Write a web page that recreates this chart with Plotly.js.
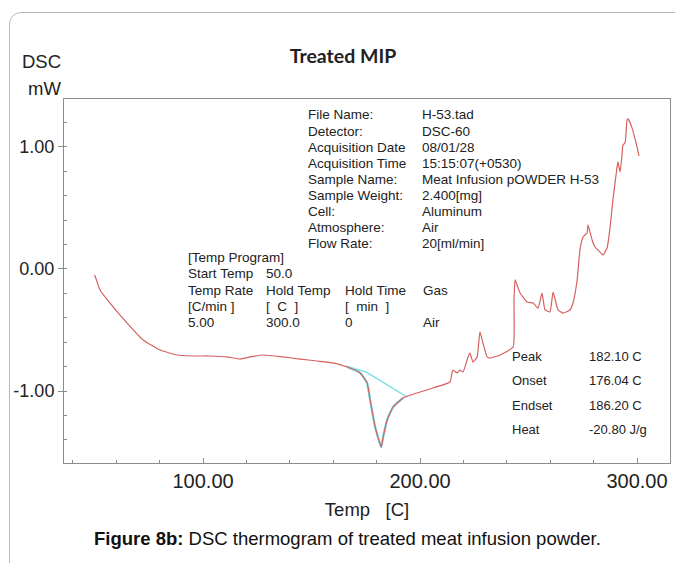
<!DOCTYPE html>
<html>
<head>
<meta charset="utf-8">
<script src="https://cdn.plot.ly/plotly-3.0.1.min.js"></script>
<style>
  html, body { margin: 0; padding: 0; background: #ffffff; overflow: hidden; }
  #wrap { position: relative; width: 675px; height: 563px; }
  #chart { position: absolute; left: 0; top: 0; width: 675px; height: 563px; }
  #frame { position: absolute; left: 9px; top: 12px; width: 720px; height: 620px;
           border: 1px solid #b8b8b8; border-radius: 12px; pointer-events: none; z-index: 5; }
</style>
</head>
<body>
<div id="wrap">
  <div id="chart"></div>
  <div id="frame"></div>
</div>
<script>
// ---- data ----
const temp = [50.0, 50.7, 52.5, 57.1, 65.0, 72.4, 80.2, 88.0, 95.4, 103.2, 111.1, 117.1, 121.7, 127.6,
  136.9, 144.7, 152.5, 159.9, 166.4, 172.4, 175.6, 177.0, 179.3, 182.1, 183.0, 184.8, 187.6, 192.2,
  198.6, 206.0, 213.8, 214.7, 215.2, 217.1, 218.4, 219.8, 222.1, 223.0, 224.4, 226.3, 227.6, 229.0,
  230.9, 232.3, 236.9, 242.9, 243.3, 243.8, 244.7, 246.1, 249.3, 252.1, 254.4, 256.2, 257.6, 259.9,
  261.3, 263.6, 265.9, 269.1, 270.5, 272.4, 273.7, 275.1, 277.0, 277.4, 279.3, 280.6, 282.0, 284.3,
  286.2, 287.6, 288.9, 290.8, 291.2, 292.2, 293.1, 293.5, 294.5, 295.4, 295.9, 297.7, 300.0, 300.9];
const dsc = [-0.049, -0.082, -0.172, -0.279, -0.443, -0.582, -0.664, -0.705, -0.713, -0.713, -0.721,
  -0.738, -0.721, -0.705, -0.721, -0.738, -0.754, -0.770, -0.803, -0.852, -0.934, -1.074, -1.295,
  -1.459, -1.377, -1.238, -1.131, -1.057, -1.016, -0.975, -0.926, -0.852, -0.828, -0.852, -0.828,
  -0.844, -0.721, -0.689, -0.762, -0.721, -0.516, -0.607, -0.721, -0.730, -0.705, -0.639, -0.254,
  -0.090, -0.131, -0.197, -0.270, -0.279, -0.320, -0.197, -0.336, -0.352, -0.189, -0.336, -0.361,
  -0.336, -0.279, -0.090, 0.156, 0.262, 0.295, 0.361, 0.238, 0.180, 0.156, 0.115, 0.172, 0.344,
  0.566, 0.836, 0.877, 0.795, 0.934, 1.016, 1.033, 1.221, 1.230, 1.156, 1.000, 0.926];
// peak analysis baseline
const baseTemp = [165.5, 175.1, 194.0];
const baseDsc = [-0.795, -0.844, -1.049];
const peakRange = [165.5, 194.0];

const xTickVals = [100, 200, 300];
const xTickText = ['100.00', '200.00', '300.00'];
const yTickVals = [-1, 0, 1];
const yTickText = ['-1.00', '0.00', '1.00'];

const infoLabels = ['File Name:', 'Detector:', 'Acquisition Date', 'Acquisition Time', 'Sample Name:',
  'Sample Weight:', 'Cell:', 'Atmosphere:', 'Flow Rate:'];
const infoValues = ['H-53.tad', 'DSC-60', '08/01/28', '15:15:07(+0530)', 'Meat Infusion pOWDER H-53',
  '2.400[mg]', 'Aluminum', 'Air', '20[ml/min]'];
const progRows = [
  ['[Temp Program]', '', '', ''],
  ['Start Temp', '50.0', '', ''],
  ['Temp Rate', 'Hold Temp', 'Hold Time', 'Gas'],
  ['[C/min ]', '[  C  ]', '[  min  ]', ''],
  ['5.00', '300.0', '0', 'Air']
];
const resultLabels = ['Peak', 'Onset', 'Endset', 'Heat'];
const resultValues = ['182.10 C', '176.04 C', '186.20 C', '-20.80 J/g'];

// ---- layout helpers (pixel -> paper) ----
const W = 675, H = 563;
const PL = 64, PR = 670, PT = 99, PB = 463;
const px = x => (x - PL) / (PR - PL);
const py = y => (PB - y) / (PB - PT);

const txtFont = {family: 'Liberation Sans, Arial, sans-serif', size: 13.5, color: '#222'};
const ann = [];
function addText(text, x, y, font, anchor) {
  ann.push({text: text, xref: 'paper', yref: 'paper', x: px(x), y: py(y),
    xanchor: anchor || 'left', yanchor: 'middle', showarrow: false, borderpad: 0, font: font || txtFont});
}
const infoY = [115, 131, 147, 163, 179, 195, 211, 227, 243];
infoLabels.forEach((t, i) => { addText(t, 307, infoY[i]); addText(infoValues[i], 421, infoY[i]); });
const progY = [257, 273, 290, 306, 322];
const progX = [187, 265, 344, 422];
progRows.forEach((row, i) => row.forEach((t, j) => { if (t) addText(t.replace(/ /g, '\u00a0'), progX[j], progY[i]); }));
const resY = [356, 380, 405, 429];
const resFont = {family: 'Liberation Sans, Arial, sans-serif', size: 13, color: '#222'};
resultLabels.forEach((t, i) => { addText(t, 511, resY[i], resFont); addText(resultValues[i], 588, resY[i], resFont); });
// y-axis unit label
const bigFont = {family: 'Liberation Sans, Arial, sans-serif', size: 18.5, color: '#222'};
addText('DSC', 62, 62, bigFont, 'right');
addText('mW', 62, 88, bigFont, 'right');
// caption
addText('<b>Figure 8b:</b> DSC thermogram of treated meat infusion powder.', 347, 538,
  {family: 'Liberation Sans, Arial, sans-serif', size: 18.5, color: '#111'}, 'center');

const inPeak = (t) => t >= peakRange[0] && t <= peakRange[1];
const cyanT = temp.filter(t => inPeak(t));
const cyanD = dsc.filter((d, i) => inPeak(temp[i]));

const traces = [
  {x: cyanT, y: cyanD, mode: 'lines', line: {color: '#7ee3ea', width: 2.4, shape: 'spline', smoothing: 0.4}, hoverinfo: 'skip'},
  {x: baseTemp, y: baseDsc, mode: 'lines', line: {color: '#6fe0e6', width: 1.3}, hoverinfo: 'skip'},
  {x: temp, y: dsc, mode: 'lines', line: {color: '#d6605e', width: 1.2, shape: 'spline', smoothing: 0.4}}
];

const axisCommon = {
  showline: true, linecolor: '#8c8c8c', linewidth: 1, mirror: true,
  showgrid: false, zeroline: false, tickcolor: '#8c8c8c',
  tickfont: {family: 'Liberation Sans, Arial, sans-serif', size: 18, color: '#222'}
};

const layout = {
  width: W, height: H,
  margin: {l: PL, r: W - PR, t: PT, b: H - PB},
  paper_bgcolor: '#ffffff', plot_bgcolor: '#ffffff',
  showlegend: false,
  title: {text: '<b>Treated MIP</b>', x: 343 / W, xref: 'container', y: 1 - 56 / H, yref: 'container',
    xanchor: 'center', yanchor: 'middle',
    font: {family: 'Lato, Open Sans, sans-serif', size: 19.5, color: '#222'}},
  xaxis: Object.assign({}, axisCommon, {
    range: [35.9, 315.2], tickmode: 'array', tickvals: xTickVals, ticktext: xTickText,
    ticks: 'inside', ticklen: 5,
    tickfont: {family: 'Liberation Sans, Arial, sans-serif', size: 20, color: '#222'},
    minor: {tickmode: 'linear', tick0: 0, dtick: 20, ticks: 'inside', ticklen: 3, tickcolor: '#8c8c8c'},
    title: {text: 'Temp\u00a0\u00a0\u00a0[C]', standoff: 12,
      font: {family: 'Liberation Sans, Arial, sans-serif', size: 18.5, color: '#222'}}
  }),
  yaxis: Object.assign({}, axisCommon, {
    range: [-1.59, 1.393], tickmode: 'array', tickvals: yTickVals, ticktext: yTickText,
    ticks: 'outside', ticklen: 5,
    minor: {tickmode: 'linear', tick0: 0, dtick: 0.2, ticks: 'inside', ticklen: 3, tickcolor: '#8c8c8c'}
  }),
  annotations: ann
};

Plotly.newPlot('chart', traces, layout, {staticPlot: true, displayModeBar: false});
</script>
</body>
</html>
